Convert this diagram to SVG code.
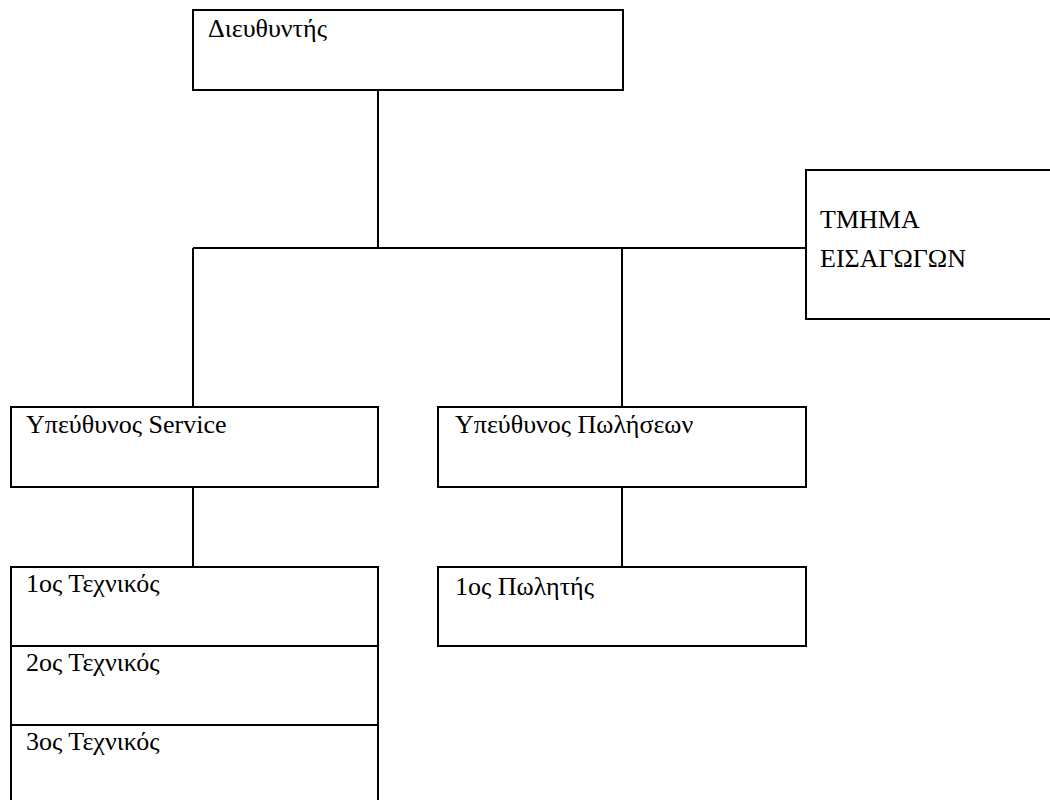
<svg xmlns="http://www.w3.org/2000/svg" width="1050" height="800" viewBox="0 0 1050 800">
<style>
.box{fill:#fff;stroke:#000;stroke-width:2}
.ln{fill:none;stroke:#000;stroke-width:2}
text{font-family:"Liberation Serif","Times New Roman","DejaVu Serif",serif;font-size:26px;fill:#000}
</style>
<rect width="1050" height="800" fill="#fff"/>
<g id="connectors">
<line class="ln" x1="378" y1="90" x2="378" y2="248"/>
<line class="ln" x1="193" y1="248" x2="806" y2="248"/>
<line class="ln" x1="193" y1="248" x2="193" y2="407"/>
<line class="ln" x1="622" y1="248" x2="622" y2="407"/>
<line class="ln" x1="193" y1="487" x2="193" y2="567"/>
<line class="ln" x1="622" y1="487" x2="622" y2="567"/>
</g>
<g id="director"><rect class="box" x="193" y="10" width="430" height="80"/><text x="208" y="37">Διευθυντής</text></g>
<g id="imports"><rect class="box" x="806" y="170" width="260" height="149"/><text x="820" y="228">ΤΜΗΜΑ</text><text x="820" y="267">ΕΙΣΑΓΩΓΩΝ</text></g>
<g id="service"><rect class="box" x="11" y="407" width="367" height="80"/><text x="26" y="433">Υπεύθυνος Service</text></g>
<g id="sales"><rect class="box" x="438" y="407" width="368" height="80"/><text x="455" y="433">Υπεύθυνος Πωλήσεων</text></g>
<g id="tech1"><rect class="box" x="11" y="567" width="367" height="79"/><text x="26" y="592">1ος Τεχνικός</text></g>
<g id="tech2"><rect class="box" x="11" y="646" width="367" height="79"/><text x="26" y="671">2ος Τεχνικός</text></g>
<g id="tech3"><rect class="box" x="11" y="725" width="367" height="90"/><text x="26" y="750">3ος Τεχνικός</text></g>
<g id="seller1"><rect class="box" x="438" y="567" width="368" height="79"/><text x="455" y="595">1ος Πωλητής</text></g>
</svg>
